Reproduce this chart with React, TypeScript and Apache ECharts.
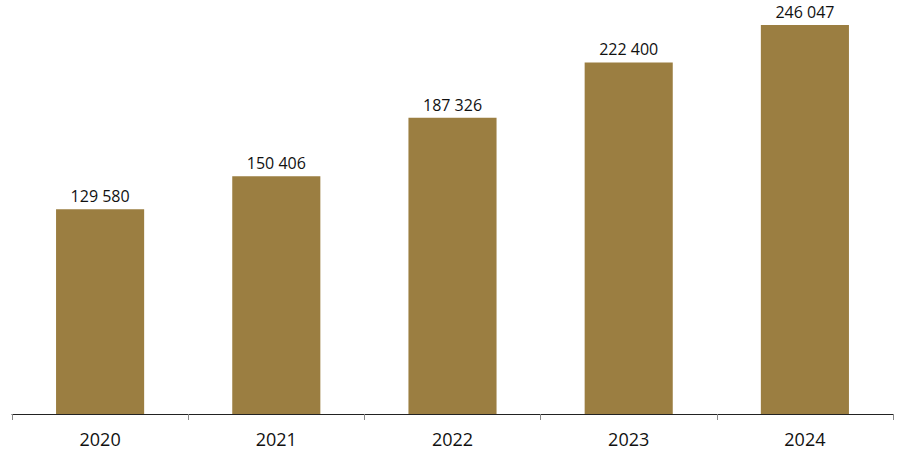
import React, { useEffect, useRef } from "react";
import * as echarts from "echarts";

const categories = ["2020", "2021", "2022", "2023", "2024"];
const values = [129580, 150406, 187326, 222400, 246047];

function fmt(v: number): string {
  return String(v).replace(/\B(?=(\d{3})+(?!\d))/g, " ");
}

export default function App() {
  const ref = useRef<HTMLDivElement>(null);
  useEffect(() => {
    if (!ref.current) return;
    const chart = echarts.init(ref.current, undefined, { renderer: "svg" });
    chart.setOption({
      animation: false,
      grid: { left: 12, right: 7, top: 25, bottom: 37, containLabel: false },
      xAxis: {
        type: "category",
        data: categories,
        axisLine: { lineStyle: { color: "#222", width: 1 } },
        axisTick: { show: true, length: 6, lineStyle: { color: "#888" } },
        axisLabel: {
          color: "#111",
          fontFamily: "Open Sans",
          fontSize: 18,
          margin: 16,
        },
      },
      yAxis: {
        type: "value",
        min: 0,
        max: "dataMax",
        show: false,
        splitLine: { show: false },
      },
      series: [
        {
          type: "bar",
          data: values,
          barWidth: "50%",
          itemStyle: { color: "#9b7e41" },
          label: {
            show: true,
            position: "top",
            distance: 5,
            color: "#111",
            fontFamily: "Open Sans",
            fontSize: 16,
            formatter: (p: any) => fmt(p.value),
          },
        },
      ],
    });
    return () => chart.dispose();
  }, []);
  return (
    <div
      ref={ref}
      style={{ position: "absolute", left: 0, top: 0, width: 900, height: 451 }}
    />
  );
}
